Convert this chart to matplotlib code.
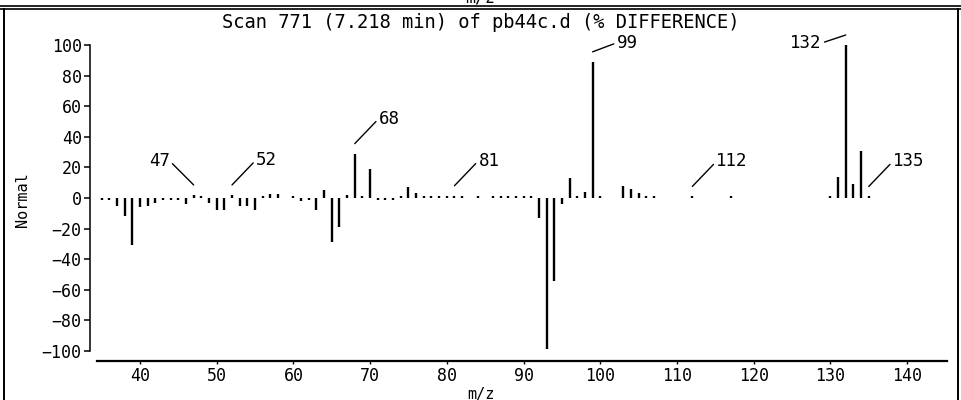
#!/usr/bin/env python3
# Scan 771 difference spectrum (% DIFFERENCE), drawn as a stick plot.

import matplotlib

matplotlib.use("Agg")
import matplotlib.pyplot as plt
from matplotlib.lines import Line2D
from matplotlib.transforms import offset_copy

W, H, DPI = 961, 400, 100

# m/z and normalised difference
mz = [35, 36, 37, 38, 39, 40, 41, 42, 43, 44, 45, 46, 47, 48, 49, 50, 51, 52, 53,
      54, 55, 56, 57, 58, 60, 61, 62, 63, 64, 65, 66, 67, 68, 69, 70, 71, 72, 73,
      74, 75, 76, 77, 78, 79, 80, 81, 82, 84, 86, 87, 88, 89, 90, 91, 92, 93, 94,
      95, 96, 97, 98, 99, 100, 103, 104, 105, 106, 107, 112, 117, 130, 131, 132,
      133, 134, 135]
abundance = [-1, -1, -5, -12, -31, -6, -5, -3, -1, -1, -1, -4, 2, 1.5, -3, -8, -8,
             2, -5, -5, -8, 1, 2.5, 2.5, 1, -2, -1, -8, 5, -29, -19, 2, 29, 1, 19,
             -1, -1, -1, 1, 7, 3, 1.5, 1, 1, 1, 1.5, 1, 1, 1, 1, 1, 1, 1, 1, -13,
             -99, -54, -4, 13, 1, 4, 89, 1, 8, 6, 3, 1, 1, 1, 1, 1, 14, 100, 9, 31, 1]
labelled_mz = [47, 52, 68, 81, 99, 112, 132, 135]

x_ticks = [40, 50, 60, 70, 80, 90, 100, 110, 120, 130, 140]
y_ticks = [-100, -80, -60, -40, -20, 0, 20, 40, 60, 80, 100]
title = "Scan 771 (7.218 min) of pb44c.d (% DIFFERENCE)"

# leader line end, in pixels from its start (which sits just above the stick)
LEADER = {99: (24, 9), 132: (-24, -8), 47: (-24, 24)}
LEADER_DEFAULT = (24, 25)

plt.rcParams["font.family"] = ["DejaVu Sans Mono"]
FS = 12


def fx(x):
    return x / W


def fy(y):
    return 1 - y / H


fig = plt.figure(figsize=(W / DPI, H / DPI), dpi=DPI)

# plot area in pixel terms: value 100 at y=45, -100 at y=352
left, right, top, bottom = 97, 947, 45, 351
ax = fig.add_axes([fx(left), fy(bottom), (right - left) / W, (bottom - top) / H])

ax.vlines(mz, 0, abundance, colors="black", linewidth=1.7)
ax.set_xlim(34.4, 145.2)
ax.set_ylim(-100, 100)
ax.set_xticks(x_ticks)
ax.set_yticks(y_ticks)
ax.set_yticklabels([str(v).replace("-", "\u2212") for v in y_ticks])

for side in ("top", "right"):
    ax.spines[side].set_visible(False)
ax.spines["left"].set_position(("outward", 7 * 0.72))
ax.spines["bottom"].set_position(("outward", 10 * 0.72))
ax.spines["left"].set_linewidth(1.1)
ax.spines["bottom"].set_linewidth(1.6)
ax.tick_params(axis="y", direction="out", length=4, width=1.1, pad=2, labelsize=FS)
ax.tick_params(axis="x", direction="out", length=2, width=1.0, pad=2, labelsize=FS)

# leader lines start 10 px above each labelled stick
start = offset_copy(ax.transData, fig, x=0, y=10, units="dots")
for m in labelled_mz:
    v = abundance[mz.index(m)]
    dx, dy = LEADER.get(m, LEADER_DEFAULT)
    ha = "right" if dx < 0 else "left"
    ax.annotate(
        str(m),
        xy=(m, v),
        xycoords=start,
        xytext=(dx, dy),
        textcoords="offset pixels",
        ha=ha,
        va="center",
        fontsize=FS + 0.5,
        arrowprops=dict(arrowstyle="-", color="black", lw=1.0, shrinkA=0, shrinkB=0,
                        relpos=(1 if dx < 0 else 0, 0.5)),
    )

fig.text(0.5, fy(22), title, ha="center", va="center", fontsize=13.5)
fig.text(fx(481), fy(394), "m/z", ha="center", va="center", fontsize=FS - 1)
fig.text(fx(22), fy(200), "Normal", ha="center", va="center", rotation=90, fontsize=FS - 1)

# scanned page frame: cut-off label and double rule at the top, side borders
fig.text(0.5, fy(-3), "m/z", ha="center", va="center", fontsize=FS)
for y in (6, 9):
    fig.add_artist(Line2D([0, 1], [fy(y), fy(y)], color="black", lw=1.2))
fig.add_artist(Line2D([fx(4), fx(4)], [fy(9), 0], color="black", lw=1.4))
fig.add_artist(Line2D([fx(958), fx(958)], [fy(9), 0], color="black", lw=1.4))

fig.savefig("out.png", dpi=DPI)
